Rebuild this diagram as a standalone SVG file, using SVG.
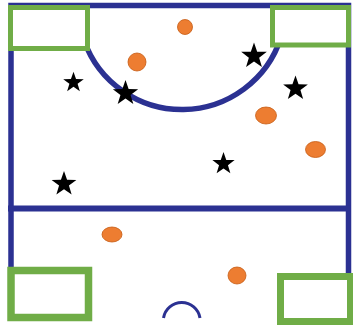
<svg xmlns="http://www.w3.org/2000/svg" xmlns:xlink="http://www.w3.org/1999/xlink" width="353" height="325" viewBox="0 0 353 325">
  <style>
    .line { stroke: #2B3192; fill: none; }
    .box { stroke: #70AD47; fill: #FFFFFF; }
    .ball { fill: #ED7D31; stroke: #C55A11; stroke-width: 0.8; }
    .star { fill: #000000; }
  </style>
  <defs>
    <path id="starShape" d="M0,-10 L2.351,-3.236 L9.511,-3.090 L3.804,1.236 L5.878,8.090 L0,4 L-5.878,8.090 L-3.804,1.236 L-9.511,-3.090 L-2.351,-3.236 Z"/>
  </defs>
  <rect width="353" height="325" fill="#FFFFFF"/>
  <g id="court">
    <path class="line" stroke-width="5.5" d="M11,270 V5.5 H348.5 V276"/>
    <line class="line" stroke-width="6" x1="8" y1="208.5" x2="351" y2="208.5"/>
    <path class="line" stroke-width="5.5" d="M84,40.3 A104 104 0 0 0 281,37.4"/>
    <path class="line" stroke-width="3" d="M163.5,318 A18.5 18.5 0 0 1 200,318"/>
  </g>
  <g id="box-top-left"><rect class="box" stroke-width="5" x="10.5" y="7.5" width="77" height="41"/></g>
  <g id="box-top-right"><rect class="box" stroke-width="5" x="272.5" y="7.5" width="76" height="37.5"/></g>
  <g id="box-bottom-left"><rect class="box" stroke-width="7.5" x="11" y="270.5" width="77.5" height="47"/></g>
  <g id="box-bottom-right"><rect class="box" stroke-width="7" x="280.5" y="276.5" width="70" height="45"/></g>
  <g id="balls">
    <ellipse class="ball" cx="185" cy="27" rx="7.5" ry="7.5"/>
    <ellipse class="ball" cx="137" cy="62" rx="9" ry="9"/>
    <ellipse class="ball" cx="266" cy="115.5" rx="10.5" ry="8.5"/>
    <ellipse class="ball" cx="315.5" cy="149.5" rx="10" ry="8"/>
    <ellipse class="ball" cx="112" cy="234.5" rx="10" ry="7.5"/>
    <ellipse class="ball" cx="237" cy="275.5" rx="9" ry="8.5"/>
  </g>
  <g id="stars">
    <use class="star" xlink:href="#starShape" href="#starShape" transform="translate(73.5,82.5) scale(1.08)"/>
    <use class="star" xlink:href="#starShape" href="#starShape" transform="translate(125.5,93.3) scale(1.33)"/>
    <use class="star" xlink:href="#starShape" href="#starShape" transform="translate(254,56) scale(1.35)"/>
    <use class="star" xlink:href="#starShape" href="#starShape" transform="translate(295.5,88.5) scale(1.3)"/>
    <use class="star" xlink:href="#starShape" href="#starShape" transform="translate(223.5,163.7) scale(1.17)"/>
    <use class="star" xlink:href="#starShape" href="#starShape" transform="translate(64,184) scale(1.3)"/>
  </g>
</svg>
